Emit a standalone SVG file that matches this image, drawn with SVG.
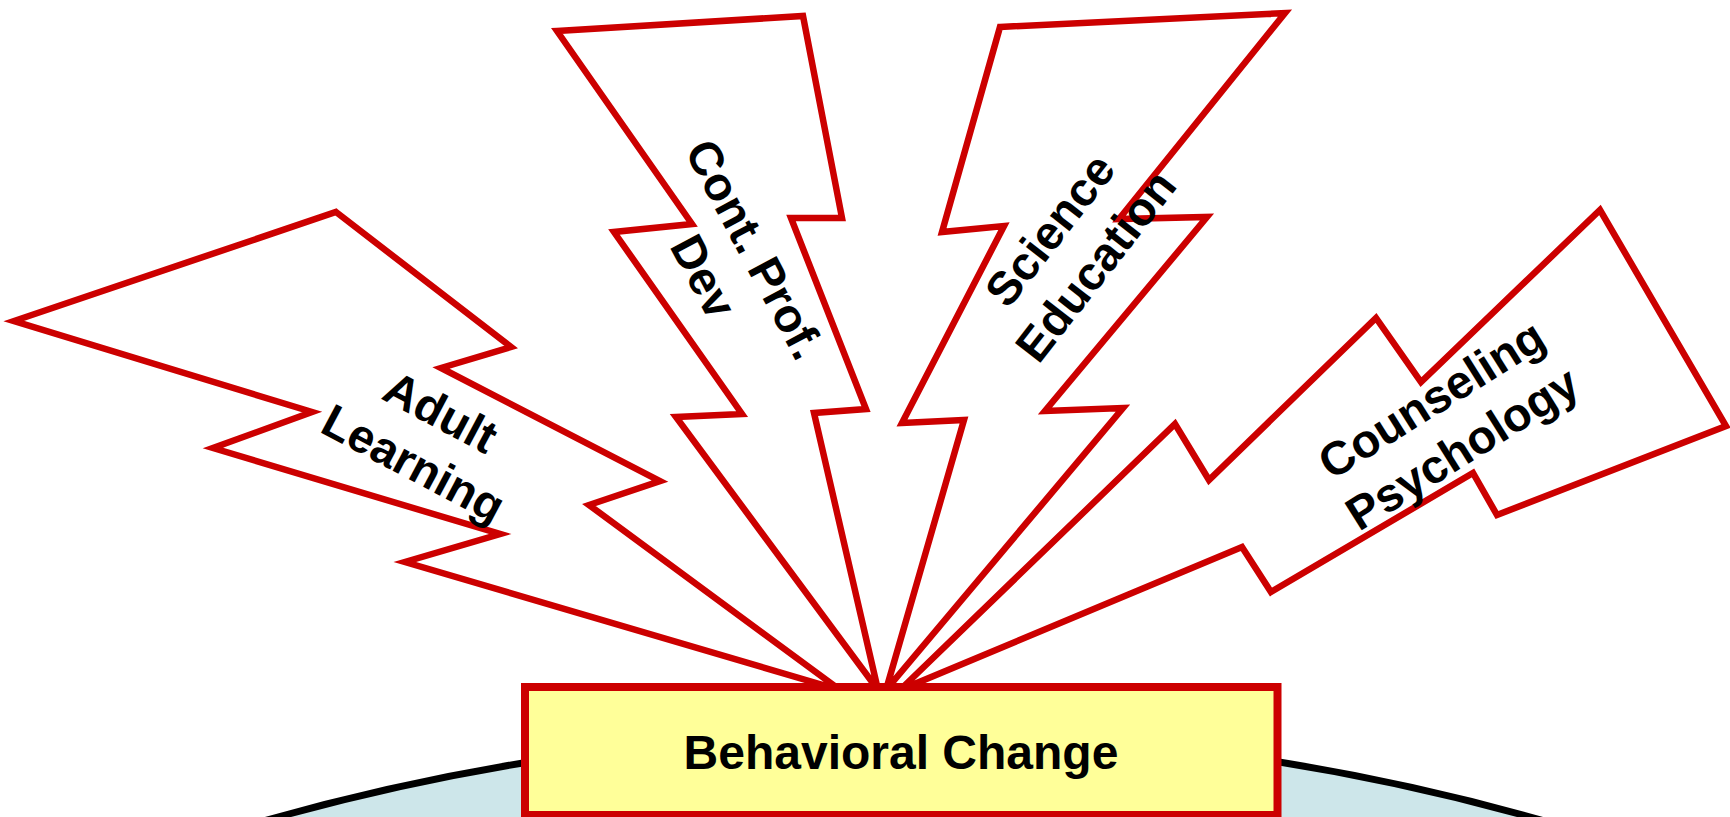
<svg xmlns="http://www.w3.org/2000/svg" width="1730" height="817" viewBox="0 0 1730 817">
<style>
.bolt{fill:#FFFFFF;stroke:#CC0000;stroke-width:6.5;stroke-linejoin:miter;stroke-miterlimit:20}
.lbl{font-family:"Liberation Sans",Arial,sans-serif;font-weight:bold;font-size:47px;fill:#000;text-anchor:middle}
</style>
<rect x="0" y="0" width="1730" height="817" fill="#FFFFFF"/>
<g id="base">
<ellipse cx="904" cy="2423" rx="2000" ry="1691" fill="#CDE6EA" stroke="#000" stroke-width="7"/>
</g>
<g id="connectors"></g>
<g id="adult-learning">
<polygon class="bolt" points="336,212 511,347 441,368 660,481 589,505 840,690 405,562 500,534 213,448 312,412 14,321"/>
<text class="lbl" transform="translate(427,438) rotate(28)"><tspan x="0" y="-13">Adult</tspan><tspan x="0" y="45">Learning</tspan></text>
</g>
<g id="cont-prof-dev">
<polygon class="bolt" points="557,31 803,16 842,218 791,218 866,409 814,413 878,690 676,417 742,414 614,232 692,224"/>
<text class="lbl" transform="translate(729,263) rotate(62)"><tspan x="0" y="-13">Cont. Prof.</tspan><tspan x="0" y="45">Dev</tspan></text>
</g>
<g id="science-education">
<polygon class="bolt" points="1000,27 1285,13 1119,219 1207,217 1045,411 1123,408 886,690 964,420 902,423 1004,226 942,232"/>
<text class="lbl" transform="translate(1073,248) rotate(-52)"><tspan x="0" y="-13">Science</tspan><tspan x="0" y="45">Education</tspan></text>
</g>
<g id="counseling-psychology">
<polygon class="bolt" points="1600,210 1726,426 1497,515 1473,473 1271,592 1242,547 900,690 1175,424 1209,480 1376,318 1421,382"/>
<text class="lbl" transform="translate(1447,424) rotate(-32)"><tspan x="0" y="-13">Counseling</tspan><tspan x="0" y="45">Psychology</tspan></text>
</g>
<g id="behavioral-change">
<rect x="525" y="687" width="752.5" height="128" fill="#FFFF99" stroke="#CC0000" stroke-width="8"/>
<text class="lbl" x="901" y="769" style="font-size:48px">Behavioral Change</text>
</g>
</svg>
